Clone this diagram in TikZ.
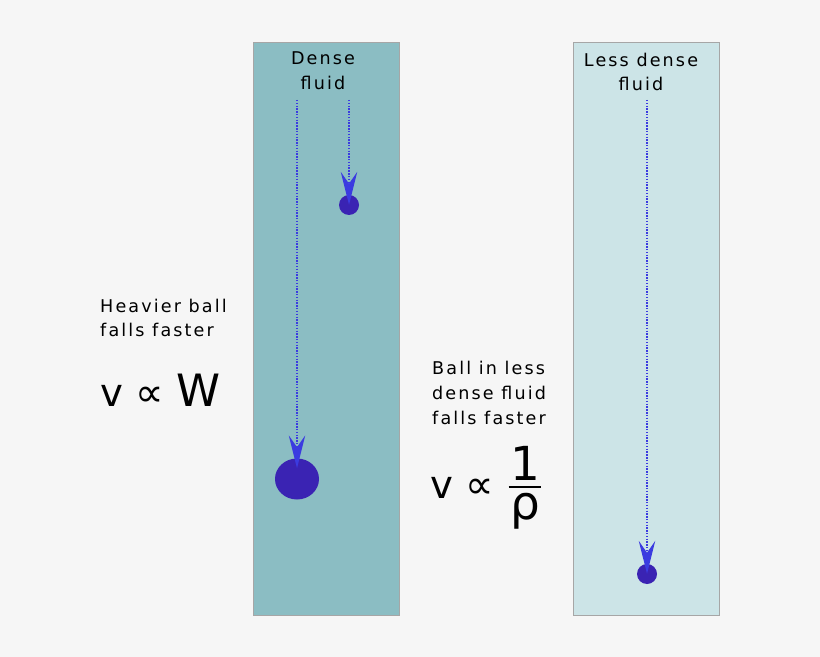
\documentclass[tikz,border=0pt]{standalone}
\usepackage{fontspec}
\setmainfont[LetterSpace=12]{DejaVu Sans}
\newfontfamily\formfont{DejaVu Sans}
\usetikzlibrary{arrows.meta,shapes.geometric}
\definecolor{densefill}{HTML}{8BBDC3}
\definecolor{lightfill}{HTML}{CCE4E7}
\definecolor{ballcol}{HTML}{3A23B3}
\definecolor{arrowcol}{HTML}{3B3BE0}
\definecolor{bgcol}{HTML}{F6F6F6}
\begin{document}
\begin{tikzpicture}[x=0.03cm,y=-0.03cm,
    tank/.style={draw=gray!70,line width=0.8pt},
    ball/.style={circle,fill=ballcol,inner sep=0pt},
    fall/.style={draw=arrowcol,dash pattern=on 1.2pt off 1.2pt,line width=1.4pt,
      -{Stealth[length=28pt,width=14pt,inset=10pt,fill=arrowcol]}},
    label/.style={font=\fontsize{15}{21}\selectfont,align=center,inner sep=0pt},
    formula/.style={font=\formfont\fontsize{33}{35}\selectfont,anchor=west,inner sep=0pt}]
    \fill[bgcol] (0,0) rectangle (820,657);
    \useasboundingbox (0,0) rectangle (820,657);

    % tanks
    \filldraw[tank,fill=densefill] (253,42) rectangle (399,615);
    \filldraw[tank,fill=lightfill] (573,42) rectangle (719,615);

    % balls
    \node[ball,minimum size=20*0.03cm] (smallA) at (349,205) {};
    \node[ball,ellipse,minimum width=44*0.03cm,minimum height=41*0.03cm] (bigA) at (297,479) {};
    \node[ball,minimum size=20*0.03cm] (smallB) at (647,574) {};

    % start points
    \coordinate (topbig) at (297,100);
    \coordinate (topsmall) at (349,100);
    \coordinate (topB) at (647,100);

    \draw[fall] (topbig) -- ([yshift=-0.3cm]bigA.north);
    \draw[fall] (topsmall) -- ([yshift=-0.3cm]smallA.north);
    \draw[fall] (topB) -- ([yshift=-0.3cm]smallB.north);

    % labels
    \node[label] (dense) at (323,71) {Dense\\fluid};
    \node[label] (less) at (641,72) {Less dense\\fluid};
    \node[label,align=left,anchor=west] (heavy) at (100,318) {Heavier ball\\falls faster};
    \node[formula] (vw) at (100,390) {v {\fontsize{34}{36}\selectfont ∝} \fontsize{38}{40}\selectfont W};
    \node[label,align=left,anchor=west] (lesstext) at (432,393) {Ball in less\\dense fluid\\falls faster};
    \node[formula] (vprop) at (430,488) {v {\fontsize{34}{36}\selectfont ∝}};
    \node[formula,anchor=south] (rhonum) at (525,481) {\fontsize{40}{40}\selectfont 1};
    \node[formula,anchor=north] (rhoden) at (525,493) {\fontsize{40}{40}\selectfont ρ};
    \draw[line width=1.6pt] ([xshift=-1pt]rhoden.west |- 0,487) -- ([xshift=1pt]rhoden.east |- 0,487);
\end{tikzpicture}
\end{document}
